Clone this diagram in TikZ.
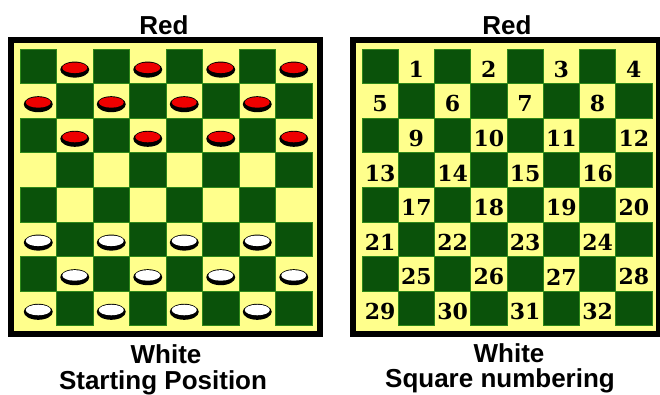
\documentclass[tikz,border=0pt]{standalone}
\usepackage{fontspec}
\setmainfont{Liberation Sans}
\newfontfamily\numfont{DejaVu Serif}
\definecolor{boardgreen}{RGB}{10,82,10}
\definecolor{edgegreen}{RGB}{45,135,25}
\definecolor{boardyellow}{RGB}{255,255,140}
\definecolor{checkred}{RGB}{238,0,0}

% one checker, centred at (#1,#2), filled with #3
\newcommand{\checkerpiece}[3]{%
  \fill[black] ({#1},{#2+0.8}) ellipse [x radius=14.5pt,y radius=8pt];
  \fill[#3] ({#1},{#2-1}) ellipse [x radius=12.5pt,y radius=5.3pt];
}

\begin{document}
\begin{tikzpicture}[x=1pt,y=-1pt,
    caption/.style={anchor=base,inner sep=0pt,font=\bfseries\fontsize{26}{28}\selectfont},
    frame/.style={fill=boardyellow,draw=black,line width=6pt},
    darksq/.style={fill=boardgreen,draw=edgegreen,line width=0.8pt},
    sqnum/.style={inner sep=0pt,font=\numfont\bfseries\fontsize{22}{22}\selectfont}]
  \useasboundingbox (0,0) rectangle (660,394);

  % starting position
  \draw[frame] (11,40) rectangle (320,334);
  \foreach \r in {0,...,7}
    \foreach \c in {0,...,7} {
      \pgfmathtruncatemacro{\s}{\r+\c}
      \ifodd\s\else
        \path[darksq] ({20+36.5*\c},{49+34.6*\r}) rectangle ++(36.5,34.6);
      \fi
    }
  \foreach \r/\col in {0/checkred,1/checkred,2/checkred,5/white,6/white,7/white}
    \foreach \c in {0,...,7} {
      \pgfmathtruncatemacro{\s}{\r+\c}
      \ifodd\s
        \checkerpiece{20+36.5*(\c+0.5)}{49+34.6*(\r+0.5)+2.5}{\col}
      \fi
    }
  \node[caption] (redL) at (164,34) {Red};
  \node[caption] (whiteL) at (166,363) {White};
  \node[caption] (startL) at (163,389) {Starting Position};

  % square numbering
  \draw[frame] (353,40) rectangle (659,334);
  \foreach \r in {0,...,7}
    \foreach \c in {0,...,7} {
      \pgfmathtruncatemacro{\s}{\r+\c}
      \ifodd\s
        \pgfmathtruncatemacro{\n}{4*\r+floor(\c/2)+1}
        \node[sqnum] (n\n) at ({362+36.25*(\c+0.5)},{49+34.6*(\r+0.5)+3}) {\n};
      \else
        \path[darksq] ({362+36.25*\c},{49+34.6*\r}) rectangle ++(36.25,34.6);
      \fi
    }
  \node[caption] (redR) at (507,34) {Red};
  \node[caption] (whiteR) at (509,362) {White};
  \node[caption] (numberR) at (500,387) {Square numbering};
\end{tikzpicture}
\end{document}
